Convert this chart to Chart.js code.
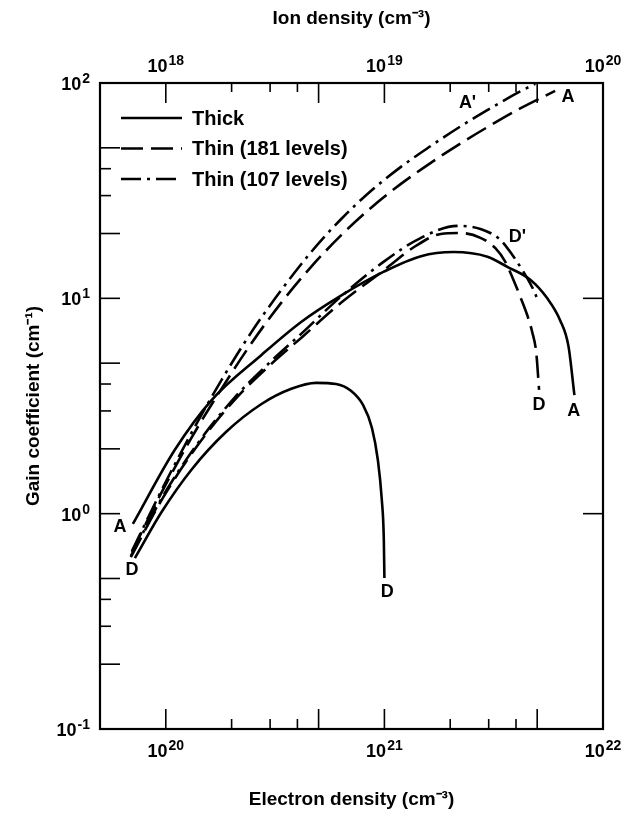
<!DOCTYPE html>
<html><head><meta charset="utf-8">
<script src="https://cdn.jsdelivr.net/npm/chart.js@4/dist/chart.umd.min.js"></script>
<style>html,body{margin:0;padding:0;background:#fff}</style>
</head><body>
<canvas id="c" width="630" height="836"></canvas>
<script>
// ---- data (electron density in cm^-3, gain in cm^-1) ----
const thickA_n = [7.07e19, 1.10e20, 1.62e20, 2.74e20, 4.16e20, 6.33e20, 9.94e20, 1.47e21, 2.07e21, 2.96e21, 3.65e21, 4.65e21, 5.56e21, 6.37e21, 6.95e21, 7.4e21];
const thickA_g = [0.896, 1.98, 3.37, 5.46, 7.77, 10.3, 13.3, 15.7, 16.4, 15.6, 14.0, 12.2, 10.0, 7.9, 6.0, 3.55];

const thickD_n = [7.22e19, 9.58e19, 1.31e20, 1.89e20, 2.74e20, 3.75e20, 4.87e20, 6.01e20, 7.03e20, 7.98e20, 8.77e20, 9.33e20, 9.73e20, 9.94e20, 1.00e21];
const thickD_g = [0.622, 1.02, 1.60, 2.40, 3.23, 3.80, 4.05, 4.00, 3.72, 3.20, 2.50, 1.78, 1.16, 0.755, 0.503];

const thin181A_n = [7.00e19, 9.58e19, 1.31e20, 1.80e20, 2.46e20, 3.37e20, 4.62e20, 6.33e20, 8.67e20, 1.19e21, 1.63e21, 2.23e21, 3.05e21, 4.18e21, 6.04e21];
const thin181A_g = [0.664, 1.26, 2.25, 3.81, 6.17, 9.53, 14.0, 19.6, 26.3, 34.0, 42.6, 52.4, 63.5, 76.2, 91.9];

const thin107A_n = [7.00e19, 9.58e19, 1.31e20, 1.80e20, 2.46e20, 3.37e20, 4.62e20, 6.33e20, 8.67e20, 1.19e21, 1.63e21, 2.23e21, 3.05e21, 4.18e21, 4.90e21];
const thin107A_g = [0.67, 1.29, 2.37, 4.18, 6.95, 10.9, 16.4, 23.3, 31.5, 40.8, 51.0, 62.9, 76.2, 91.4, 99.0];

const thin181D_n = [6.92e19, 9.58e19, 1.38e20, 2.06e20, 3.04e20, 4.16e20, 6.33e20, 9.94e20, 1.39e21, 1.81e21, 2.23e21, 2.75e21, 3.22e21, 3.57e21, 3.89e21, 4.18e21, 4.50e21, 4.74e21, 4.95e21, 5.10e21];
const thin181D_g = [0.629, 1.16, 2.04, 3.37, 4.96, 6.55, 9.53, 13.5, 17.5, 19.9, 20.1, 19.1, 17.1, 14.8, 12.2, 10.2, 8.37, 7.0, 5.6, 3.76];

const thin107D_n = [6.92e19, 9.58e19, 1.38e20, 2.06e20, 3.04e20, 4.16e20, 6.33e20, 9.94e20, 1.47e21, 2.16e21, 2.75e21, 3.39e21, 3.85e21, 4.32e21, 4.65e21, 4.90e21, 5.05e21];
const thin107D_g = [0.636, 1.18, 2.08, 3.45, 5.12, 6.84, 10.2, 14.8, 19.1, 21.7, 21.0, 18.7, 15.9, 13.3, 11.7, 10.5, 9.62];

// curve end labels
const curveLabelText = ['A', 'D', 'D', "A'", 'A', "D'", 'D', 'A'];
const curveLabelN    = [6.17e19, 7.0e19, 1.03e21, 2.40e21, 6.92e21, 4.06e21, 5.10e21, 7.35e21];
const curveLabelG    = [0.867, 0.548, 0.432, 80.8, 86.2, 19.3, 3.20, 3.00];

// legend
const legendLabels = ['Thick', 'Thin (181 levels)', 'Thin (107 levels)'];

// axes: tick values, label base and exponent
const xTickValues = [1e20, 1e21, 1e22];
const xTickLabels = [['10', '20'], ['10', '21'], ['10', '22']];
const ionTickValues = [1e18, 1e19, 1e20];
const ionTickLabels = [['10', '18'], ['10', '19'], ['10', '20']];
const yTickValues = [0.1, 1, 10, 100];
const yTickLabels = [['10', '-1'], ['10', '0'], ['10', '1'], ['10', '2']];
const xTickMarks = [1e20, 2e20, 3e20, 4e20, 5e20, 1e21, 2e21, 3e21, 4e21, 5e21];
const ionTickMarks = [1e18, 2e18, 3e18, 4e18, 5e18, 1e19, 2e19, 3e19, 4e19, 5e19];
const yTickMarks = [0.2, 0.3, 0.4, 0.5, 1, 2, 3, 4, 5, 10, 20, 30, 40, 50];
const yRightTickMarks = [1, 10];

const FONT = '"Liberation Sans", Arial, Helvetica, sans-serif';
const SOLID = [], DASH = [22, 8], DASHDOT = [20, 6, 3, 6];

function pts(n, g) { return n.map((v, i) => ({ x: v, y: g[i] })); }
function ds(label, n, g, dash) {
  return { label, data: pts(n, g), borderColor: '#000', borderWidth: 2.6, borderDash: dash,
    pointRadius: 0, fill: false, cubicInterpolationMode: 'monotone', xAxisID: 'x', yAxisID: 'y' };
}

function mant(v) { return Math.round(v / Math.pow(10, Math.floor(Math.log10(v) + 1e-9))); }

// draw "base^exp"; align: 'center' | 'right'
function drawSup(ctx, base, exp, x, baseline, align) {
  ctx.font = 'bold 18px ' + FONT;
  const wb = ctx.measureText(base).width;
  ctx.font = 'bold 14px ' + FONT;
  const we = ctx.measureText(exp).width;
  const w = wb + 1 + we;
  const x0 = align === 'right' ? x - w : x - w / 2;
  ctx.textAlign = 'left'; ctx.textBaseline = 'alphabetic';
  ctx.font = 'bold 18px ' + FONT;
  ctx.fillText(base, x0, baseline);
  ctx.font = 'bold 14px ' + FONT;
  ctx.fillText(exp, x0 + wb + 1, baseline - 7);
}

const decor = {
  id: 'decor',
  afterDraw(chart) {
    const { ctx, chartArea: a, scales } = chart;
    ctx.save();
    ctx.strokeStyle = '#000';
    ctx.fillStyle = '#000';
    ctx.lineWidth = 1.6;
    const line = (x1, y1, x2, y2) => { ctx.beginPath(); ctx.moveTo(x1, y1); ctx.lineTo(x2, y2); ctx.stroke(); };
    xTickMarks.forEach(v => { const p = scales.x.getPixelForValue(v); const m = mant(v); const L = (m === 1 || m === 5) ? 20 : 10; line(p, a.bottom, p, a.bottom - L); });
    ionTickMarks.forEach(v => { const p = scales.x2.getPixelForValue(v); const m = mant(v); const L = (m === 1 || m === 5) ? 20 : 9; line(p, a.top, p, a.top + L); });
    yTickMarks.forEach(v => { const p = scales.y.getPixelForValue(v); const m = mant(v); const L = (m === 1 || m === 2 || m === 5) ? 20 : 11; line(a.left, p, a.left + L, p); });
    yRightTickMarks.forEach(v => { const p = scales.y.getPixelForValue(v); line(a.right, p, a.right - 20, p); });
    ctx.lineWidth = 2.2;
    ctx.strokeRect(a.left, a.top, a.right - a.left, a.bottom - a.top);

    // tick labels from the scales' ticks
    scales.x.ticks.forEach(t => { const l = xTickLabels[xTickValues.indexOf(t.value)]; if (l) drawSup(ctx, l[0], l[1], scales.x.getPixelForValue(t.value), a.bottom + 28, 'center'); });
    scales.x2.ticks.forEach(t => { const l = ionTickLabels[ionTickValues.indexOf(t.value)]; if (l) drawSup(ctx, l[0], l[1], scales.x2.getPixelForValue(t.value), a.top - 11, 'center'); });
    scales.y.ticks.forEach(t => { const l = yTickLabels[yTickValues.indexOf(t.value)]; if (l) drawSup(ctx, l[0], l[1], a.left - 10, scales.y.getPixelForValue(t.value) + 7, 'right'); });

    // curve labels
    ctx.font = 'bold 18px ' + FONT;
    ctx.textAlign = 'center'; ctx.textBaseline = 'middle';
    curveLabelText.forEach((t, i) => {
      ctx.fillText(t, scales.x.getPixelForValue(curveLabelN[i]), scales.y.getPixelForValue(curveLabelG[i]));
    });

    // legend
    const dashes = [SOLID, DASH, DASHDOT];
    ctx.font = 'bold 20px ' + FONT;
    ctx.textAlign = 'left';
    legendLabels.forEach((t, i) => {
      const y = a.top + 35 + i * 30.5;
      ctx.lineWidth = 2.6;
      ctx.setLineDash(dashes[i]);
      line(a.left + 21, y, a.left + 82, y);
      ctx.setLineDash([]);
      ctx.fillText(t, a.left + 92, y + 1);
    });
    ctx.restore();
  }
};

const titleFont = { family: FONT, size: 19, weight: 'bold' };

new Chart(document.getElementById('c'), {
  type: 'line',
  data: {
    datasets: [
      ds('Thick A', thickA_n, thickA_g, SOLID),
      ds('Thick D', thickD_n, thickD_g, SOLID),
      ds('Thin (181 levels) A', thin181A_n, thin181A_g, DASH),
      ds('Thin (181 levels) D', thin181D_n, thin181D_g, DASH),
      ds("Thin (107 levels) A'", thin107A_n, thin107A_g, DASHDOT),
      ds("Thin (107 levels) D'", thin107D_n, thin107D_g, DASHDOT)
    ]
  },
  options: {
    responsive: false, animation: false, devicePixelRatio: 1,
    layout: { padding: { left: 0, right: 27, top: 0, bottom: 0 } },
    plugins: { legend: { display: false }, tooltip: { enabled: false } },
    scales: {
      x: {
        type: 'logarithmic', position: 'bottom', min: 5e19, max: 1e22,
        grid: { display: false, drawTicks: false }, border: { display: false },
        afterBuildTicks: s => { s.ticks = xTickValues.map(v => ({ value: v })); },
        afterFit: s => { s.height = 107; },
        ticks: { display: false },
        title: { display: true, text: 'Electron density (cm⁻³)', color: '#000', font: titleFont, padding: { top: 0, bottom: 25 } }
      },
      x2: {
        type: 'logarithmic', position: 'top', min: 5e17, max: 1e20,
        grid: { display: false, drawTicks: false }, border: { display: false },
        afterBuildTicks: s => { s.ticks = ionTickValues.map(v => ({ value: v })); },
        afterFit: s => { s.height = 83; },
        ticks: { display: false },
        title: { display: true, text: 'Ion density (cm⁻³)', color: '#000', font: titleFont, padding: { top: 7, bottom: 0 } }
      },
      y: {
        type: 'logarithmic', position: 'left', min: 0.1, max: 100,
        grid: { display: false, drawTicks: false }, border: { display: false },
        afterBuildTicks: s => { s.ticks = yTickValues.map(v => ({ value: v })); },
        afterFit: s => { s.width = 100; },
        ticks: { display: false },
        title: { display: true, text: 'Gain coefficient (cm⁻¹)', color: '#000', font: titleFont, padding: { top: 22, bottom: 0 } }
      }
    }
  },
  plugins: [decor]
});
</script>
</body></html>
